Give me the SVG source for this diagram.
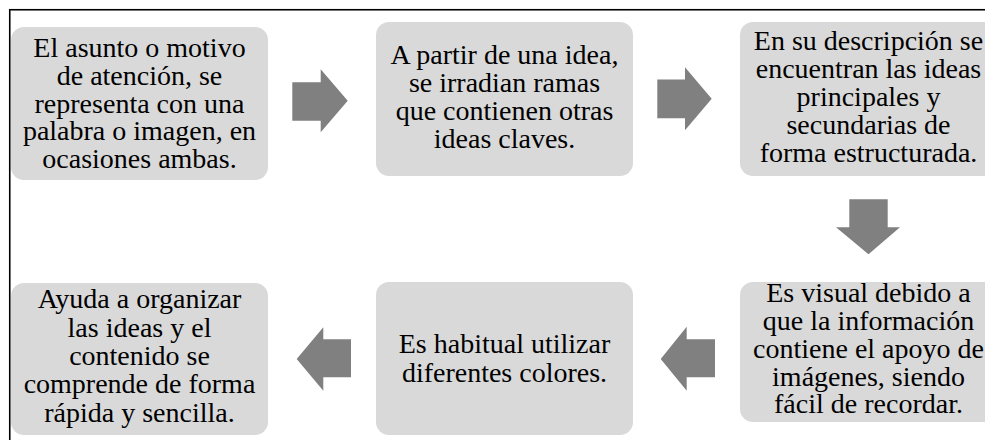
<svg xmlns="http://www.w3.org/2000/svg" width="985" height="440" viewBox="0 0 985 440">
<style>
.box{fill:#d9d9d9;}
.arr{fill:#808080;}
.t{font-size:28px;fill:#000;text-anchor:middle;font-family:'Liberation Serif','Times New Roman',Times,serif;}
</style>
<rect x="0" y="0" width="985" height="440" fill="#fff"/>
<rect x="9.75" y="9.75" width="1000" height="500" fill="none" stroke="#000" stroke-width="1.6"/>
<g id="node1">
<rect class="box" x="11" y="27" width="257" height="153" rx="13"/>
<text class="t" x="139.5" y="56.7">El asunto o motivo</text>
<text class="t" x="139.5" y="85">de atención, se</text>
<text class="t" x="139.5" y="112.7">representa con una</text>
<text class="t" x="139.5" y="140.3">palabra o imagen, en</text>
<text class="t" x="139.5" y="168.3">ocasiones ambas.</text>
</g>
<g id="node2">
<rect class="box" x="376" y="22" width="257" height="154" rx="13"/>
<text class="t" x="504.5" y="64.3">A partir de una idea,</text>
<text class="t" x="504.5" y="92.3">se irradian ramas</text>
<text class="t" x="504.5" y="120.2">que contienen otras</text>
<text class="t" x="504.5" y="148.3">ideas claves.</text>
</g>
<g id="node3">
<rect class="box" x="740" y="22" width="257" height="154" rx="13"/>
<text class="t" x="868.5" y="50">En su descripción se</text>
<text class="t" x="868.5" y="77.8">encuentran las ideas</text>
<text class="t" x="868.5" y="105.8">principales y</text>
<text class="t" x="868.5" y="133.5">secundarias de</text>
<text class="t" x="868.5" y="161.5">forma estructurada.</text>
</g>
<g id="node4">
<rect class="box" x="740" y="282" width="257" height="140" rx="13"/>
<text class="t" x="868.5" y="301.7">Es visual debido a</text>
<text class="t" x="868.5" y="330">que la información</text>
<text class="t" x="868.5" y="358">contiene el apoyo de</text>
<text class="t" x="868.5" y="385.5">imágenes, siendo</text>
<text class="t" x="868.5" y="413.3">fácil de recordar.</text>
</g>
<g id="node5">
<rect class="box" x="376" y="282" width="257" height="153" rx="13"/>
<text class="t" x="504.5" y="353.3">Es habitual utilizar</text>
<text class="t" x="504.5" y="381.7">diferentes colores.</text>
</g>
<g id="node6">
<rect class="box" x="11" y="283" width="257" height="152" rx="13"/>
<text class="t" x="139.5" y="308.3">Ayuda a organizar</text>
<text class="t" x="139.5" y="336.7">las ideas y el</text>
<text class="t" x="139.5" y="365">contenido se</text>
<text class="t" x="139.5" y="393.3">comprende de forma</text>
<text class="t" x="139.5" y="421.7">rápida y sencilla.</text>
</g>
<g id="connectors">
<polygon class="arr" points="292.3,82.3 320.7,82.3 320.7,69.3 347.7,100.8 320.7,132.3 320.7,120.7 292.3,120.7"/>
<polygon class="arr" points="657.3,79.5 685,79.5 685,67.3 711.7,98.8 685,130.3 685,118.3 657.3,118.3"/>
<polygon class="arr" points="849.3,199.3 887.7,199.3 887.7,227.3 900,227.3 868.5,254.3 836,227.3 849.3,227.3"/>
<polygon class="arr" points="715,339.3 715,377.3 686.7,377.3 686.7,390.7 660.7,359 686.7,326.7 686.7,339.3"/>
<polygon class="arr" points="351,339.3 351,377.3 323.3,377.3 323.3,390.7 296.7,359 323.3,327.3 323.3,339.3"/>
</g>
</svg>
